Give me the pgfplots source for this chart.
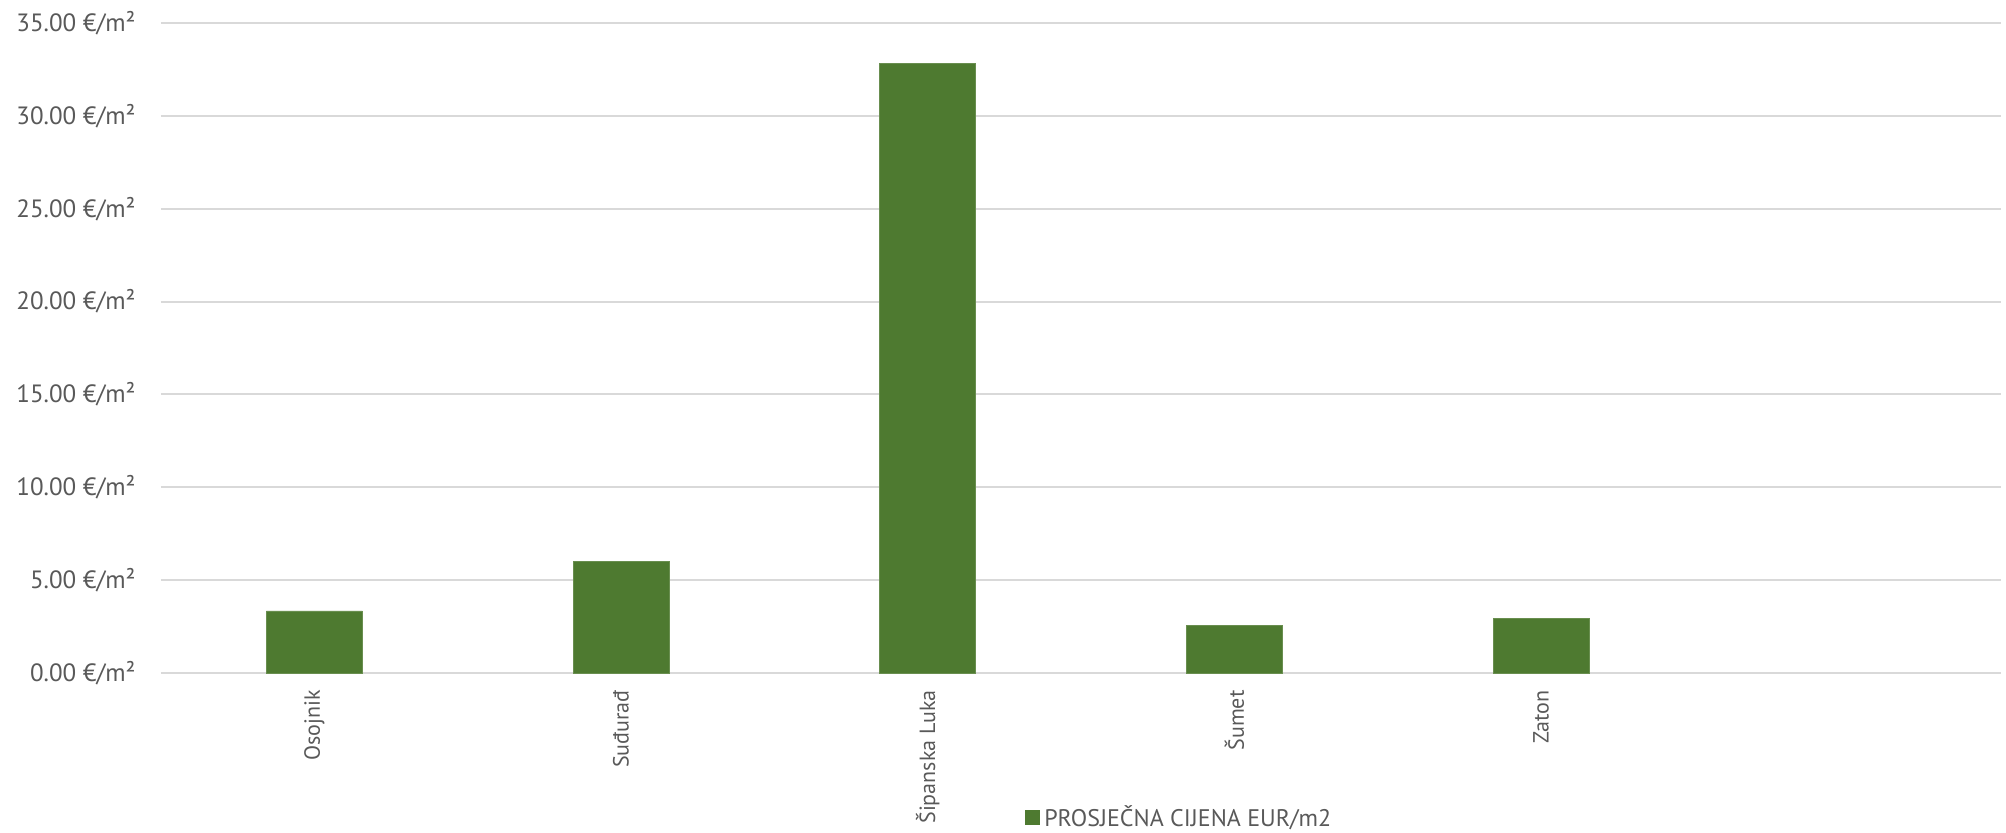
\documentclass[border=0pt]{standalone}
\usepackage{fontspec}
\setmainfont{PT Sans}
\usepackage{pgfplots}
\pgfplotsset{compat=1.18}
\definecolor{barg}{HTML}{4E7A30}
\definecolor{gridc}{HTML}{D9D9D9}
\definecolor{txt}{HTML}{595959}
\begin{document}
\begin{tikzpicture}
\begin{axis}[
  name=ax,
  at={(0,0)}, anchor=south west,
  scale only axis,
  width=920pt, height=325pt,
  xmin=-0.5, xmax=5.5,
  ymin=0, ymax=35,
  ytick={0,5,...,35},
  xtick={0,1,2,3,4},
  xticklabels={Osojnik,Suđurađ,Šipanska Luka,Šumet,Zaton},
  axis line style={draw=none},
  major tick length=0pt,
  ymajorgrids,
  grid style={gridc, line width=1pt},
  font=\fontsize{12.5pt}{15pt}\selectfont,
  tick label style={text=txt},
  /pgf/number format/assume math mode=true,
  yticklabel={\pgfmathprintnumber[fixed,fixed zerofill,precision=2]{\tick}~€/m²},
  yticklabel style={anchor=east, inner sep=0pt, xshift=-12.5pt},
  xticklabel style={rotate=90, anchor=east, inner xsep=8.5pt, inner ysep=0pt,
    font=\fontsize{11pt}{13pt}\selectfont},
  legend style={at={(0.4696,-0.222)}, anchor=west, draw=none, fill=none,
    font=\fontsize{12pt}{14pt}\selectfont, text=txt, inner sep=0pt,
    /tikz/every even column/.append style={column sep=0pt}},
  legend cell align=left,
  legend image code/.code={\fill[barg] (0pt,-3.5pt) rectangle (7pt,3.5pt);},
]
\addplot[ybar, bar width=48pt, fill=barg, draw=barg!85!white, line width=0.4pt] coordinates {
  (0,3.34) (1,5.99) (2,32.83) (3,2.58) (4,2.96)
};
\addlegendentry{PROSJEČNA CIJENA EUR/m2}
\end{axis}
\pgfresetboundingbox
\path[use as bounding box] (-80.5pt,-79.5pt) rectangle (922.5pt,336.5pt);
\end{tikzpicture}
\end{document}
